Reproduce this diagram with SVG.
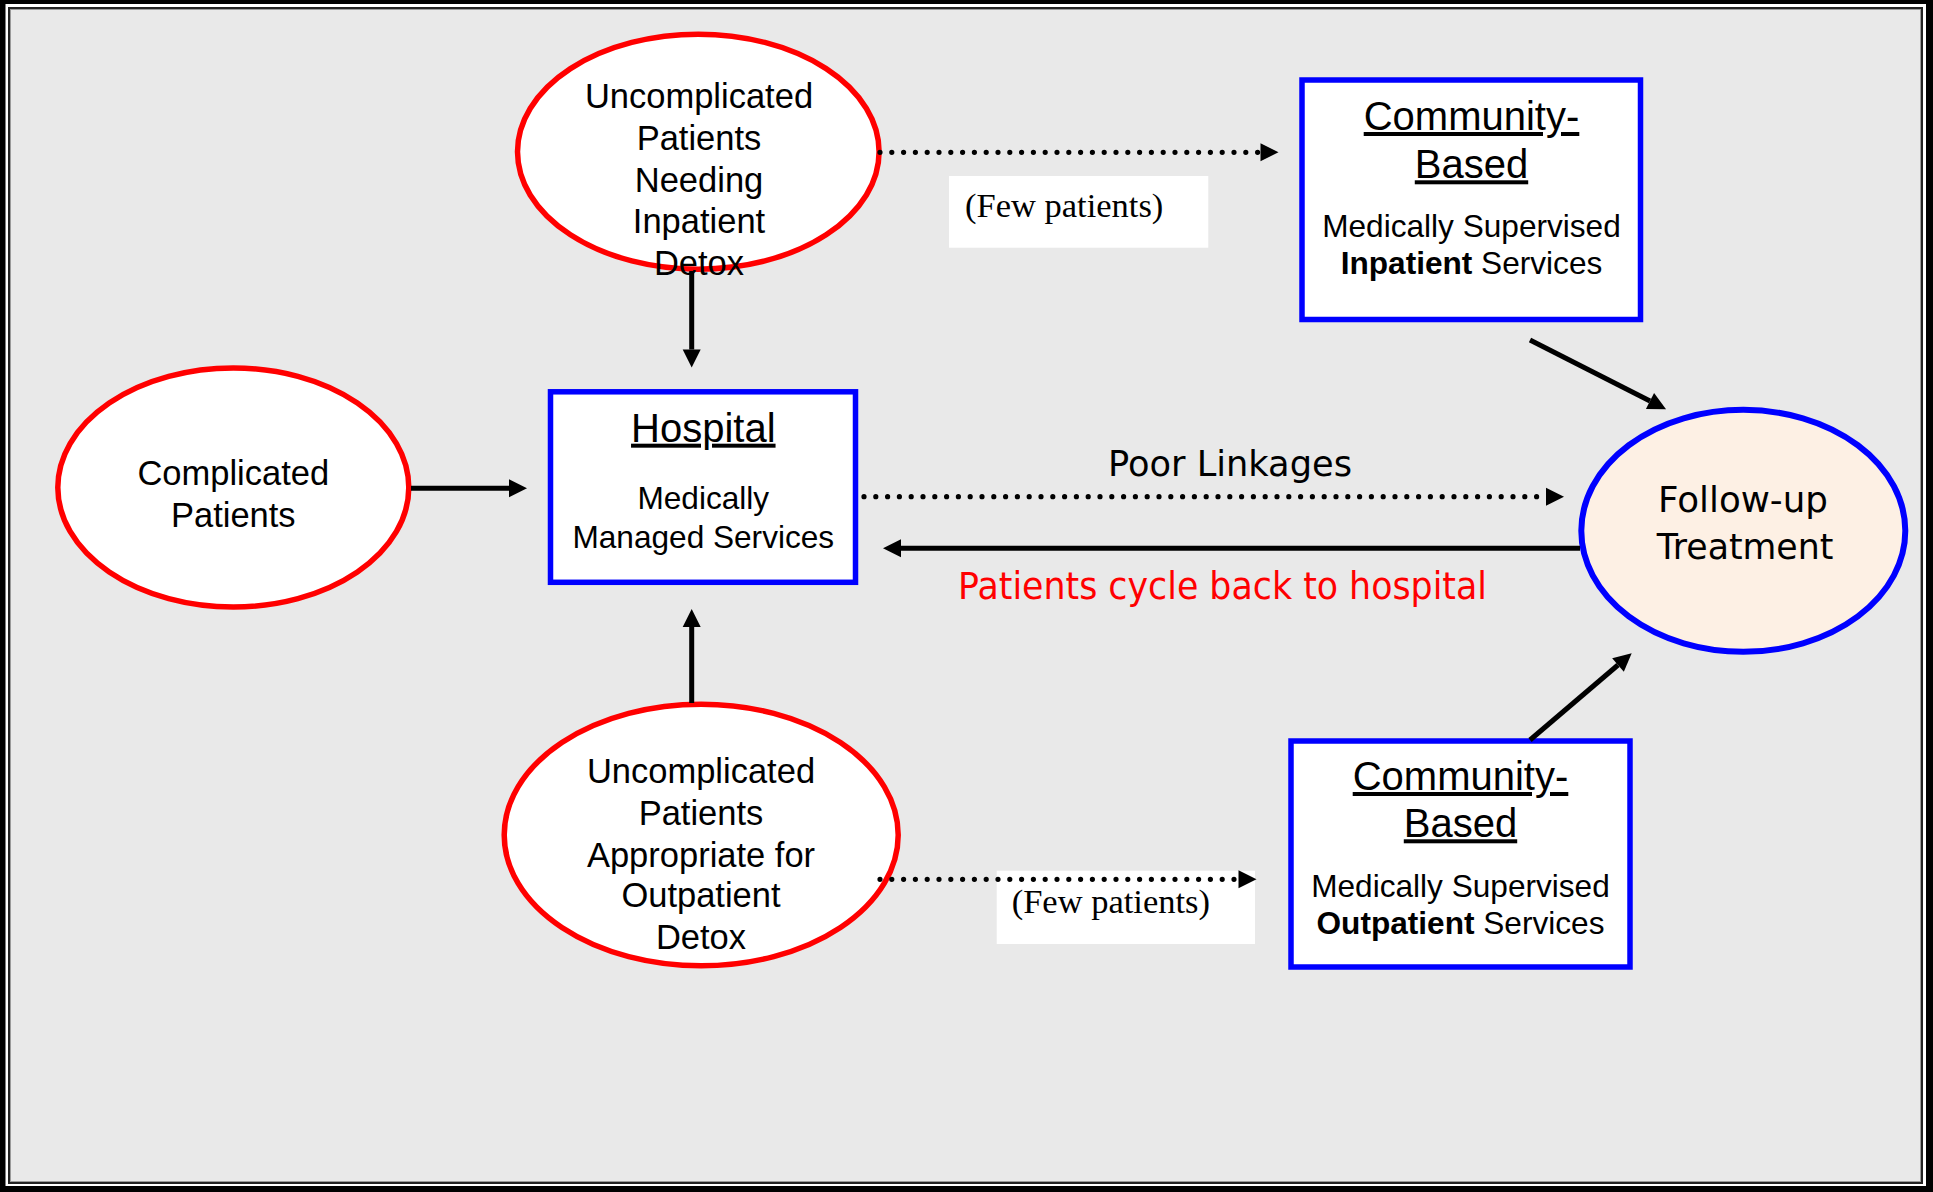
<svg xmlns="http://www.w3.org/2000/svg" width="1933" height="1192" viewBox="0 0 1933 1192">
<defs>
<style>
.ell{fill:#ffffff;stroke:#ff0000;stroke-width:5.5}
.box{fill:#ffffff;stroke:#0000ff;stroke-width:5.5}
.t{font-family:"Liberation Sans",Arial,sans-serif;fill:#000;text-anchor:middle}
.et{font-size:34.5px}
.bt{font-size:40px;text-decoration:underline}
.bb{font-size:31.6px}
.tah{font-family:"DejaVu Sans","Verdana",sans-serif;text-anchor:middle}
.few{font-family:"Liberation Serif","Times New Roman",serif;font-size:34.5px;fill:#000}
.solid{fill:none;stroke:#000;stroke-width:5;marker-end:url(#ah)}
.dot{fill:none;stroke:#000;stroke-width:5.2;stroke-linecap:round;stroke-dasharray:0 11.8;marker-end:url(#ah)}
</style>
<marker id="ah" markerUnits="userSpaceOnUse" markerWidth="18" markerHeight="18" refX="0" refY="9" orient="auto" overflow="visible">
<path d="M0,0 L18,9 L0,18 z" fill="#000"/>
</marker>
</defs>
<rect x="0" y="0" width="1933" height="1192" fill="#000"/>
<rect x="5.5" y="4" width="1920.5" height="1182" fill="#fff"/>
<rect x="9" y="8" width="1913" height="1175" fill="#e9e9e9" stroke="#222" stroke-width="2"/>
<rect x="10.5" y="9.5" width="1910" height="1172" fill="none" stroke="#9a9a9a" stroke-width="1"/>

<g id="node-uncomplicated-inpatient">
<ellipse class="ell" cx="698.3" cy="151.7" rx="180.8" ry="117.5"/>
<text class="t et" x="699" y="108">Uncomplicated</text>
<text class="t et" x="699" y="150">Patients</text>
<text class="t et" x="699" y="192">Needing</text>
<text class="t et" x="699" y="233">Inpatient</text>
<text class="t et" x="699" y="275">Detox</text>
</g>

<g id="node-complicated">
<ellipse class="ell" cx="233.3" cy="487.5" rx="175.5" ry="119.5"/>
<text class="t et" x="233.3" y="485">Complicated</text>
<text class="t et" x="233.3" y="526.7">Patients</text>
</g>

<g id="node-uncomplicated-outpatient">
<ellipse class="ell" cx="701.2" cy="835" rx="197" ry="130.8"/>
<text class="t et" x="701" y="783.3">Uncomplicated</text>
<text class="t et" x="701" y="825">Patients</text>
<text class="t et" x="701" y="866.7">Appropriate for</text>
<text class="t et" x="701" y="907.3">Outpatient</text>
<text class="t et" x="701" y="949.3">Detox</text>
</g>

<g id="node-hospital">
<rect class="box" x="550.5" y="391.8" width="305" height="190.5"/>
<text class="t bt" x="703.3" y="441.7">Hospital</text>
<text class="t bb" x="703.3" y="509">Medically</text>
<text class="t bb" x="703.3" y="548">Managed Services</text>
</g>

<g id="node-community-inpatient">
<rect class="box" x="1302" y="80" width="338.5" height="239.5"/>
<text class="t bt" x="1471.5" y="130">Community-</text>
<text class="t bt" x="1471.5" y="178.3">Based</text>
<text class="t bb" x="1471.5" y="236.7">Medically Supervised</text>
<text class="t bb" x="1471.5" y="274"><tspan font-weight="bold">Inpatient</tspan> Services</text>
</g>

<g id="node-community-outpatient">
<rect class="box" x="1291" y="741" width="339" height="226"/>
<text class="t bt" x="1460.5" y="790">Community-</text>
<text class="t bt" x="1460.5" y="837.3">Based</text>
<text class="t bb" x="1460.5" y="896.7">Medically Supervised</text>
<text class="t bb" x="1460.5" y="934"><tspan font-weight="bold">Outpatient</tspan> Services</text>
</g>

<g id="node-followup">
<ellipse cx="1743.3" cy="530.8" rx="162" ry="121" fill="#fdf0e4" stroke="#0000ff" stroke-width="6"/>
<text class="tah" x="1743" y="511.7" font-size="36" textLength="170" lengthAdjust="spacingAndGlyphs">Follow-up</text>
<text class="tah" x="1745" y="559.3" font-size="36" textLength="176.7" lengthAdjust="spacingAndGlyphs">Treatment</text>
</g>

<g id="connectors">
<rect x="949" y="176" width="259.3" height="71.7" fill="#fff"/>
<rect x="996.7" y="870.7" width="258.3" height="73.3" fill="#fff"/>
<line class="solid" x1="691.7" y1="271" x2="691.7" y2="349.5"/>
<line class="solid" x1="411" y1="488.3" x2="509" y2="488.3"/>
<line class="solid" x1="691.7" y1="703" x2="691.7" y2="627"/>
<line class="dot" x1="880" y1="152.3" x2="1260.5" y2="152.3"/>
<line class="dot" x1="864" y1="496.7" x2="1546" y2="496.7"/>
<line class="solid" x1="1580" y1="548.3" x2="901" y2="548.3"/>
<line class="dot" x1="880" y1="879.3" x2="1238.5" y2="879.3"/>
<line class="solid" x1="1530" y1="340" x2="1650" y2="401.1"/>
<line class="solid" x1="1530" y1="740" x2="1618" y2="665"/>
<text class="few" x="965" y="216.7">(Few patients)</text>
<text class="few" x="1011.7" y="913.3">(Few patients)</text>
<text class="tah" x="1230" y="476" font-size="35" textLength="244" lengthAdjust="spacingAndGlyphs" fill="#000">Poor Linkages</text>
<text class="tah" x="1222.5" y="598.5" font-size="36.5" textLength="529" lengthAdjust="spacingAndGlyphs" fill="#ff0000">Patients cycle back to hospital</text>
</g>
</svg>
